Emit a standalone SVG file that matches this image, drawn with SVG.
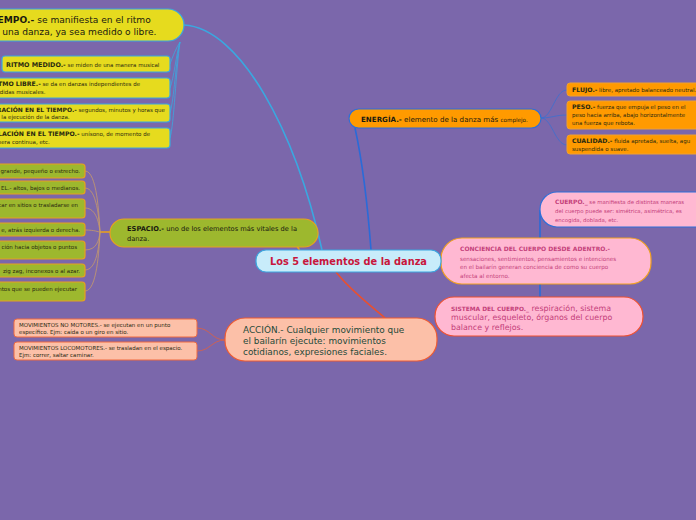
<svg xmlns="http://www.w3.org/2000/svg" width="696" height="520" viewBox="0 0 696 520">
<style>
text{font-family:"DejaVu Sans","Verdana",sans-serif;}
.b{font-weight:bold;}
.yel{fill:#E6DB1E;stroke:#3AA8E0;stroke-width:1.2;}
.oli{fill:#9DB82E;stroke:#E8A020;stroke-width:1.2;}
.org{fill:#FF9A00;stroke:#F0A030;stroke-width:1;}
.pnk{fill:#FFB8D2;}
.sal{fill:#FCC0A8;stroke:#F06A40;stroke-width:1;}
.t5{font-size:5.5px;fill:#2A2A10;}
.tp{fill:#C4407A;}
.c{fill:none;}
</style>
<rect width="696" height="520" fill="#7B67AB"/>
<g id="connectors">
<path class="c" d="M184,25 C240,28 295,130 322,250" stroke="#3AA8E0" stroke-width="1.6"/>
<path class="c" d="M180,42 C176,48 173,56 170,64" stroke="#3AA8E0" stroke-width="0.8"/>
<path class="c" d="M180,42 C176,55 174,78 170,88" stroke="#3AA8E0" stroke-width="0.8"/>
<path class="c" d="M180,42 C176,60 174,100 170,113" stroke="#3AA8E0" stroke-width="0.8"/>
<path class="c" d="M180,42 C176,70 174,125 170,138" stroke="#3AA8E0" stroke-width="0.8"/>
<path class="c" d="M355,128 C362,160 368,210 371,250" stroke="#2A6BD8" stroke-width="1.6"/>
<path class="c" d="M541,118 C552,118 555,90 567,90" stroke="#3A70D0" stroke-width="0.8"/>
<path class="c" d="M541,118 C552,118 555,115 567,115" stroke="#3A70D0" stroke-width="0.8"/>
<path class="c" d="M541,118 C552,118 555,145 567,145" stroke="#3A70D0" stroke-width="0.8"/>
<path class="c" d="M540,210 L540,297" stroke="#2A6BD8" stroke-width="1.6"/>
<path class="c" d="M297,246 L300,251" stroke="#E8A020" stroke-width="1.6"/>
<path class="c" d="M100,232 L110,232" stroke="#E8A020" stroke-width="1.6"/>
<path class="c" d="M85,171 C97,171 99,215 100,232" stroke="#C89A6A" stroke-width="0.8"/>
<path class="c" d="M85,188 C97,188 99,220 100,232" stroke="#C89A6A" stroke-width="0.8"/>
<path class="c" d="M85,208 C97,208 99,225 100,232" stroke="#C89A6A" stroke-width="0.8"/>
<path class="c" d="M85,230 C95,230 98,232 100,232" stroke="#C89A6A" stroke-width="0.8"/>
<path class="c" d="M85,250 C97,250 99,240 100,232" stroke="#C89A6A" stroke-width="0.8"/>
<path class="c" d="M85,270 C97,270 99,245 100,232" stroke="#C89A6A" stroke-width="0.8"/>
<path class="c" d="M85,291 C97,291 99,250 100,232" stroke="#C89A6A" stroke-width="0.8"/>
<path class="c" d="M336,272 C350,290 370,305 385,318" stroke="#E85030" stroke-width="1.6"/>
<path class="c" d="M197,328 C210,328 212,340 225,340" stroke="#E06040" stroke-width="0.8"/>
<path class="c" d="M197,351 C210,351 212,340 225,340" stroke="#E06040" stroke-width="0.8"/>
</g>
<g id="tiempo">
<rect class="yel" x="-30" y="9" width="214" height="32" rx="16"/>
<text x="-12" y="23" font-size="9.1" fill="#1A1A10"><tspan class="b">TIEMPO.-</tspan> se manifiesta en el ritmo</text>
<text x="-12" y="35" font-size="9.1" fill="#1A1A10">de una danza, ya sea medido o libre.</text>
</g>
<g id="ritmo-medido">
<rect class="yel" x="2" y="56" width="168" height="16" rx="3"/>
<text x="6" y="66.5" class="t5" font-size="5.8"><tspan class="b" font-size="6.4">RITMO MEDIDO.-</tspan> se miden de una manera musical</text>
</g>
<g id="ritmo-libre">
<rect class="yel" x="-20" y="78" width="190" height="20" rx="3"/>
<text x="-9" y="86" class="t5"><tspan class="b" font-size="6.2">RITMO LIBRE.-</tspan> se da en danzas independientes de</text>
<text x="-9" y="94" class="t5">medidas musicales.</text>
</g>
<g id="duracion">
<rect class="yel" x="-20" y="104" width="190" height="18" rx="3"/>
<text x="-13" y="111.5" class="t5" font-size="5.3"><tspan class="b" font-size="6">DURACIÓN EN EL TIEMPO.-</tspan> segundos, minutos y horas que</text>
<text x="-13" y="118.5" class="t5" font-size="5.3">dura la ejecución de la danza.</text>
</g>
<g id="relacion">
<rect class="yel" x="-20" y="128" width="190" height="20" rx="3"/>
<text x="-11" y="136" class="t5"><tspan class="b" font-size="6.2">RELACIÓN EN EL TIEMPO.-</tspan> unísono, de momento de</text>
<text x="-11" y="144" class="t5">manera continua, etc.</text>
</g>
<g id="espacio">
<rect class="oli" x="110" y="219" width="208" height="28" rx="14"/>
<text x="127" y="231" font-size="6.7" fill="#1A1A10"><tspan class="b">ESPACIO.-</tspan> uno de los elementos más vitales de la</text>
<text x="127" y="241" font-size="6.7" fill="#1A1A10">danza.</text>
</g>
<g id="esp1"><rect class="oli" x="-20" y="164" width="105" height="14" rx="3"/><text x="80" y="173" text-anchor="end" class="t5">grande, pequeño o estrecho.</text></g>
<g id="esp2"><rect class="oli" x="-20" y="181" width="105" height="13" rx="3"/><text x="80" y="189.5" text-anchor="end" class="t5">EL.- altos, bajos o medianos.</text></g>
<g id="esp3"><rect class="oli" x="-20" y="199" width="105" height="19" rx="3"/><text x="78" y="207" text-anchor="end" class="t5">car en sitios o trasladarse en</text></g>
<g id="esp4"><rect class="oli" x="-20" y="223" width="105" height="13" rx="3"/><text x="80" y="231.5" text-anchor="end" class="t5">e, atrás izquierda o derecha.</text></g>
<g id="esp5"><rect class="oli" x="-20" y="241" width="105" height="18" rx="3"/><text x="77" y="248.5" text-anchor="end" class="t5">ción hacia objetos o puntos</text></g>
<g id="esp6"><rect class="oli" x="-20" y="264" width="105" height="13" rx="3"/><text x="80" y="272.5" text-anchor="end" class="t5">zig zag, inconexos o al azar.</text></g>
<g id="esp7"><rect class="oli" x="-20" y="282" width="105" height="19" rx="3"/><text x="77" y="290.5" text-anchor="end" class="t5">ntos que se pueden ejecutar</text></g>
<g id="energia">
<rect x="349" y="109" width="192" height="19" rx="9.5" fill="#FF9A00" stroke="#2F6FD8" stroke-width="1.2"/>
<text x="361" y="121.5" font-size="7.1" fill="#1A1A10"><tspan class="b">ENERGÍA.-</tspan> elemento de la danza más <tspan font-size="5.6">complejo.</tspan></text>
</g>
<g id="flujo">
<rect class="org" x="567" y="83" width="140" height="13" rx="3"/>
<text x="572" y="91.5" class="t5"><tspan class="b" font-size="6.2">FLUJO.-</tspan> libre, apretado balanceado neutral.</text>
</g>
<g id="peso">
<rect class="org" x="567" y="101" width="140" height="28" rx="3"/>
<text x="572" y="109" class="t5"><tspan class="b" font-size="6.2">PESO.-</tspan> fuerza que empuja el peso en el</text>
<text x="572" y="117" class="t5">peso hacia arriba, abajo horizontalmente</text>
<text x="572" y="125" class="t5">una fuerza que rebota.</text>
</g>
<g id="cualidad">
<rect class="org" x="567" y="135" width="140" height="19" rx="3"/>
<text x="572" y="143" class="t5"><tspan class="b" font-size="6.2">CUALIDAD.-</tspan> fluida apretada, suelta, agu</text>
<text x="572" y="151" class="t5">suspendida o suave.</text>
</g>
<g id="cuerpo">
<rect class="pnk" x="540" y="192" width="180" height="35" rx="17" stroke="#2F6FD8" stroke-width="1.2"/>
<text x="555" y="204" font-size="5.4" class="tp"><tspan class="b" font-size="6">CUERPO._</tspan> se manifiesta de distintas maneras</text>
<text x="555" y="213" font-size="5.4" class="tp">del cuerpo puede ser: simétrica, asimétrica, es</text>
<text x="555" y="221.5" font-size="5.4" class="tp">encogida, doblada, etc.</text>
</g>
<g id="conciencia">
<rect class="pnk" x="441" y="238" width="210" height="46" rx="21" stroke="#F0A020" stroke-width="1.2"/>
<text x="460" y="250.5" font-size="6" class="tp b" fill="#B8306A">CONCIENCIA DEL CUERPO DESDE ADENTRO.-</text>
<text x="460" y="260.5" font-size="5.6" class="tp">sensaciones, sentimientos, pensamientos e intenciones</text>
<text x="460" y="269" font-size="5.6" class="tp">en el bailarín generan conciencia de como su cuerpo</text>
<text x="460" y="277.5" font-size="5.6" class="tp">afecta al entorno.</text>
</g>
<g id="sistema">
<rect class="pnk" x="435" y="297" width="208" height="39" rx="19" stroke="#F05030" stroke-width="1.2"/>
<text x="451" y="310.5" font-size="7.9" class="tp"><tspan class="b" font-size="5.9">SISTEMA DEL CUERPO._</tspan> respiración, sistema</text>
<text x="451" y="320" font-size="7.9" class="tp">muscular, esqueleto, órganos del cuerpo</text>
<text x="451" y="329.5" font-size="7.9" class="tp">balance y reflejos.</text>
</g>
<g id="accion">
<rect x="225" y="318" width="212" height="43" rx="20" fill="#FCC0A8" stroke="#F05A30" stroke-width="1.2"/>
<text x="243" y="332.5" font-size="8.9" fill="#1F4A3A">ACCIÓN.- Cualquier movimiento que</text>
<text x="243" y="343.5" font-size="8.9" fill="#1F4A3A">el bailarín ejecute: movimientos</text>
<text x="243" y="354.5" font-size="8.9" fill="#1F4A3A">cotidianos, expresiones faciales.</text>
</g>
<g id="no-motores">
<rect class="sal" x="14" y="319" width="183" height="18" rx="3"/>
<text x="19" y="326.5" class="t5">MOVIMIENTOS NO MOTORES.- se ejecutan en un punto</text>
<text x="19" y="333.5" class="t5">específico. Ejm: caída o un giro en sitio.</text>
</g>
<g id="locomotores">
<rect class="sal" x="14" y="342" width="183" height="18" rx="3"/>
<text x="19" y="349.5" class="t5">MOVIMIENTOS LOCOMOTORES.- se trasladan en el espacio.</text>
<text x="19" y="356.5" class="t5">Ejm: correr, saltar caminar.</text>
</g>
<g id="central">
<rect x="256" y="250" width="185" height="22" rx="10" fill="#C8ECFA" stroke="#3BA6E0" stroke-width="1.2"/>
<text x="348.5" y="265" text-anchor="middle" font-size="9.8" class="b" fill="#C8163C">Los 5 elementos de la danza</text>
</g>
</svg>
